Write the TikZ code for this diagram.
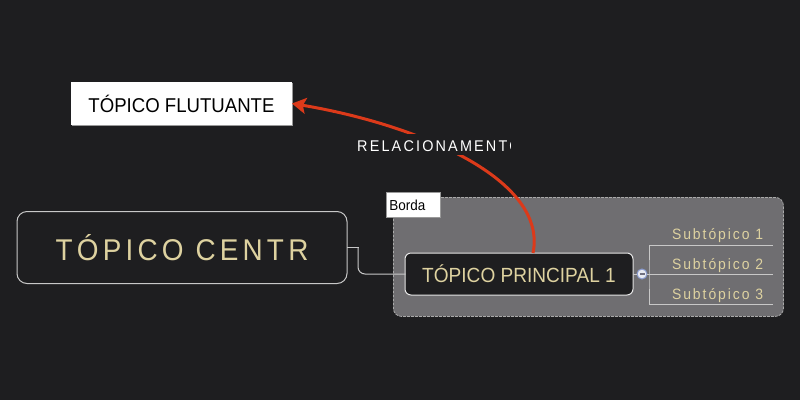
\documentclass[tikz,border=0pt]{standalone}
\usepackage{fontspec}
\setmainfont{Liberation Sans}
\newfontfamily\mapfont[FakeStretch=0.93]{Liberation Sans}
\usetikzlibrary{arrows.meta}
\usetikzlibrary{shadows}

\begin{document}
\begin{tikzpicture}[x=1pt,y=-1pt,line cap=rect,
	linha/.style={draw=custcol_c8_c8_c8, line width=1.0pt},
	topico/.style={line width=1.0pt, inner sep=0, outer sep=0},
	subtexto/.style={inner sep=0, outer sep=0, anchor=base west, text=custcol_d9_cc_9a,
		font=\mapfont\fontsize{15}{15}\selectfont\addfontfeature{LetterSpace=13}}]
				\definecolor{custcol_1e_1e_20}{RGB}{30, 30, 32}
				\definecolor{custcol_6f_6e_71}{RGB}{111, 110, 113}
				\definecolor{custcol_aa_aa_aa}{RGB}{170, 170, 170}
				\definecolor{custcol_c8_c8_c8}{RGB}{200, 200, 200}
				\definecolor{custcol_e6_e6_e6}{RGB}{230, 230, 230}
				\definecolor{custcol_99_99_99}{RGB}{153, 153, 153}
				\definecolor{custcol_d9_cc_9a}{RGB}{222, 210, 160}
				\definecolor{custcol_dc_3a_1a}{RGB}{220, 58, 26}
				\definecolor{custcol_88_99_cc}{RGB}{136, 153, 204}
				\definecolor{custcol_e8_ea_f2}{RGB}{232, 234, 242}
				\definecolor{custcol_70_70_80}{RGB}{112, 112, 128}
				\fill [custcol_1e_1e_20] (0,0) rectangle (800,400);
				\useasboundingbox (0,0) rectangle (800,400);
				% borda do grupo
				\node[draw=custcol_aa_aa_aa, dash pattern=on 2pt off 2pt, line width=0.8pt, fill=custcol_6f_6e_71, rounded corners=8pt, minimum width=390, minimum height=119, anchor=north west, inner sep=0] (grupo) at (393.0,197.0) {};
				\node[draw=custcol_99_99_99, fill=white, line width=0.8pt, anchor=north west, minimum height=25, text width=48, inner xsep=3, inner ysep=0, align=left, font=\mapfont\fontsize{14.5}{14.5}\selectfont] (borda) at (386.0,192.0) {Borda};
				% topicos
				\node[topico, draw=custcol_c8_c8_c8, fill=custcol_1e_1e_20, rounded corners=10pt, minimum width=330, minimum height=72, text=custcol_d9_cc_9a, font=\mapfont\fontsize{30}{30}\selectfont\addfontfeature{LetterSpace=14}] (centro) at (182.0,247.5) {TÓPICO CENTR};
				\node[topico, draw=custcol_e6_e6_e6, fill=custcol_1e_1e_20, rounded corners=6pt, minimum width=228, minimum height=42, text=custcol_d9_cc_9a, font=\mapfont\fontsize{20.5}{20.5}\selectfont] (principal) at (519.0,274.0) {TÓPICO PRINCIPAL 1};
				\node[topico, fill=white, minimum width=221, minimum height=43, text=black, drop shadow={shadow xshift=1pt, shadow yshift=-1pt, fill=custcol_99_99_99, opacity=1}, font=\mapfont\fontsize{20}{20}\selectfont] (flutuante) at (181.5,103.5) {TÓPICO FLUTUANTE};
				% ligacoes
				\draw [linha] (centro.east) -- ++(11.0,0) coordinate (joelho);
				\draw [linha, rounded corners=7pt] (joelho) |- (principal.west);
				\node[circle, draw=custcol_88_99_cc, fill=custcol_e8_ea_f2, line width=1.0pt, minimum size=10, inner sep=0] (recolher) at (642.0,274.0) {};
				\draw [custcol_70_70_80, line width=1.3pt, line cap=butt] ([xshift=-2.5pt]recolher.center) -- ([xshift=2.5pt]recolher.center);
				\draw [linha] (principal.east) -- (recolher.west);
				\coordinate (galho) at (649.0,274.0);
				\coordinate (fim1) at (772.0,245.0);
				\coordinate (fim2) at (772.0,274.0);
				\coordinate (fim3) at (772.0,304.0);
				\draw [linha] (fim1) -| (galho) |- (fim3);
				\draw [linha] (recolher.east) -- (fim2);
				\begin{scope}
					\clip (660.0,220.0) rectangle (763.0,310.0);
					\node[subtexto] (sub1) at (672.0,239.5) {Subtópico 1};
					\node[subtexto] (sub2) at (672.0,269.0) {Subtópico 2};
					\node[subtexto] (sub3) at (672.0,299.0) {Subtópico 3};
				\end{scope}
				% relacionamento
				\draw [custcol_dc_3a_1a, line width=3.0pt, line cap=butt, -{Stealth[length=14pt, width=16pt, inset=3pt]}] ([xshift=14pt]principal.north) .. controls (548.0,180.0) and (420.0,125.0) .. (flutuante.east);
				\begin{scope}
					\clip (340.0,125.0) rectangle (510.5,165.0);
					\node[fill=custcol_1e_1e_20, inner xsep=2, inner ysep=3, text height=15, text depth=0, anchor=base west, text=white, font=\mapfont\fontsize{15.5}{15.5}\selectfont\addfontfeature{LetterSpace=14}] (relacao) at (355.0,151.5) {RELACIONAMENTO};
				\end{scope}
			\end{tikzpicture}
\end{document}
